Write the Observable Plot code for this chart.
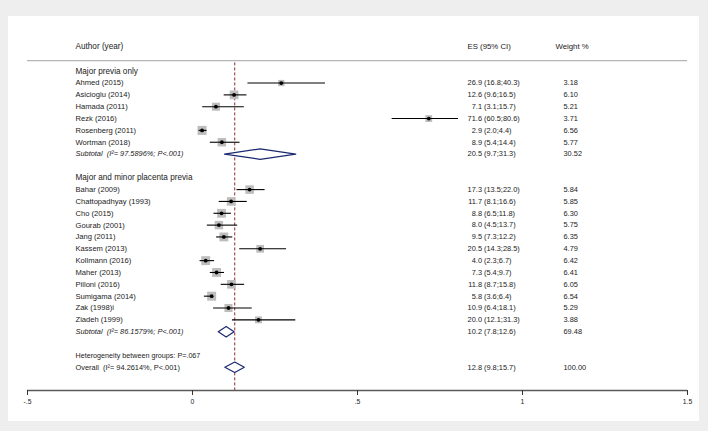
<!DOCTYPE html>
<html>
<head>
<meta charset="utf-8">
<script src="https://cdn.jsdelivr.net/npm/d3@7"></script>
<script src="https://cdn.jsdelivr.net/npm/@observablehq/plot@0.6"></script>
<style>
  html, body { margin: 0; padding: 0; background: #eeeeee; }
  #wrap { position: relative; width: 708px; height: 431px; }
  #panel { position: absolute; left: 8px; top: 16px; width: 691px; height: 405px; background: #ffffff; }
  #chart { position: absolute; left: 0; top: 0; }
</style>
</head>
<body>
<div id="wrap"><div id="panel"></div><div id="chart"></div></div>
<script>
// ---- data ----
const group1Name = "Major previa only";
const group1Authors = ["Ahmed (2015)", "Asicioglu (2014)", "Hamada (2011)", "Rezk (2016)", "Rosenberg (2011)", "Wortman (2018)"];
const group1ES = [26.9, 12.6, 7.1, 71.6, 2.9, 8.9];
const group1Lo = [16.8, 9.6, 3.1, 60.5, 2.0, 5.4];
const group1Hi = [40.3, 16.5, 15.7, 80.6, 4.4, 14.4];
const group1W  = ["3.18", "6.10", "5.21", "3.71", "6.56", "5.77"];

const group2Name = "Major and minor placenta previa";
const group2Authors = ["Bahar (2009)", "Chattopadhyay (1993)", "Cho (2015)", "Gourab (2001)", "Jang (2011)", "Kassem (2013)", "Kollmann (2016)", "Maher (2013)", "Pilloni (2016)", "Sumigama (2014)", "Zak (1998)i", "Ziadeh (1999)"];
const group2ES = [17.3, 11.7, 8.8, 8.0, 9.5, 20.5, 4.0, 7.3, 11.8, 5.8, 10.9, 20.0];
const group2Lo = [13.5, 8.1, 6.5, 4.5, 7.3, 14.3, 2.3, 5.4, 8.7, 3.6, 6.4, 12.1];
const group2Hi = [22.0, 16.6, 11.8, 13.7, 12.2, 28.5, 6.7, 9.7, 15.8, 6.4, 18.1, 31.3];
const group2W  = ["5.84", "5.85", "6.30", "5.75", "6.35", "4.79", "6.42", "6.41", "6.05", "6.54", "5.29", "3.88"];

const pooledLabels = ["Subtotal  (I\u00B2= 97.5896%; P<.001)", "Subtotal  (I\u00B2= 86.1579%; P<.001)", "Overall  (I\u00B2= 94.2614%, P<.001)"];
const pooledES = [20.5, 10.2, 12.8];
const pooledLo = [9.7, 7.8, 9.8];
const pooledHi = [31.3, 12.6, 15.7];
const pooledW  = ["30.52", "69.48", "100.00"];
const heterogeneityText = "Heterogeneity between groups: P=.067";

const headerAuthor = "Author (year)";
const headerES = "ES (95% CI)";
const headerWeight = "Weight %";

const tickValues = [-0.5, 0, 0.5, 1, 1.5];
const tickLabels = ["-.5", "0", ".5", "1", "1.5"];

// ---- build rows ----
const studies = [];
group1Authors.forEach((a, i) => studies.push({label: a, es: group1ES[i], lo: group1Lo[i], hi: group1Hi[i], w: group1W[i], row: 1 + i}));
group2Authors.forEach((a, i) => studies.push({label: a, es: group2ES[i], lo: group2Lo[i], hi: group2Hi[i], w: group2W[i], row: 10 + i}));
const pooledRows = [7, 22, 25];
const pooled = pooledLabels.map((l, i) => ({label: l, es: pooledES[i], lo: pooledLo[i], hi: pooledHi[i], w: pooledW[i], row: pooledRows[i], italic: i < 2}));
const groupHeads = [{label: group1Name, row: 0}, {label: group2Name, row: 9}];

const fmt = v => v.toFixed(1);
const H = 0.44; // diamond half height in rows
const diamondPts = [];
pooled.forEach((p, i) => {
  diamondPts.push({id: i, x: p.lo / 100, y: p.row});
  diamondPts.push({id: i, x: p.es / 100, y: p.row - H});
  diamondPts.push({id: i, x: p.hi / 100, y: p.row});
  diamondPts.push({id: i, x: p.es / 100, y: p.row + H});
  diamondPts.push({id: i, x: p.lo / 100, y: p.row});
});

const axisRow = 26.97, headerRow = -2.1, headerLineRow = -0.9, refTopRow = -0.7;
const overallES = pooledES[2] / 100;
const txt = "#222";
const navy = "#1b2870";

const chart = Plot.plot({
  width: 708, height: 431,
  marginLeft: 27, marginRight: 21, marginTop: 20, marginBottom: 41,
  style: {fontFamily: "'Liberation Sans', Arial, sans-serif", background: "transparent", color: txt},
  x: {domain: [-0.5, 1.5], range: [27, 687]},
  y: {domain: [0, 25], range: [70.7, 366.7], axis: null},
  r: {type: "sqrt", domain: [0, 7], range: [0, 5.25]},
  marks: [
    // header
    Plot.text([headerAuthor], {frameAnchor: "left", dx: 48, y: () => headerRow, text: d => d, textAnchor: "start", fontSize: 8.2, fill: txt}),
    Plot.text([headerES], {frameAnchor: "left", dx: 440, y: () => headerRow, text: d => d, textAnchor: "start", fontSize: 7.8, fill: txt}),
    Plot.text([headerWeight], {frameAnchor: "left", dx: 528, y: () => headerRow, text: d => d, textAnchor: "start", fontSize: 7.8, fill: txt}),
    Plot.ruleY([headerLineRow], {x1: -0.5, x2: 1.5, stroke: "#b5b5b5", strokeWidth: 1.2}),
    // reference line at overall
    Plot.ruleX([overallES], {y1: refTopRow, y2: axisRow, stroke: "#8c2a2a", strokeDasharray: "3,2", strokeWidth: 1}),
    // group headers
    Plot.text(groupHeads, {frameAnchor: "left", dx: 48, y: "row", text: "label", textAnchor: "start", fontSize: 8.2, fill: txt}),
    // study labels
    Plot.text(studies, {frameAnchor: "left", dx: 48, y: "row", text: "label", textAnchor: "start", fontSize: 7.6, fill: txt}),
    Plot.text(studies, {frameAnchor: "left", dx: 454.5, y: "row", text: d => fmt(d.es), textAnchor: "end", fontSize: 7.4, fill: txt}),
    Plot.text(studies, {frameAnchor: "left", dx: 456.5, y: "row", text: d => `(${fmt(d.lo)};${fmt(d.hi)})`, textAnchor: "start", fontSize: 7.4, fill: txt}),
    Plot.text(studies, {frameAnchor: "left", dx: 536, y: "row", text: "w", textAnchor: "start", fontSize: 7.4, fill: txt}),
    // pooled labels
    Plot.text(pooled.filter(p => p.italic), {frameAnchor: "left", dx: 48, y: "row", text: "label", textAnchor: "start", fontSize: 7.4, fontStyle: "italic", fill: txt}),
    Plot.text(pooled.filter(p => !p.italic), {frameAnchor: "left", dx: 48, y: "row", text: "label", textAnchor: "start", fontSize: 7.4, fill: txt}),
    Plot.text([heterogeneityText], {frameAnchor: "left", dx: 48, y: () => pooledRows[2] - 1, text: d => d, textAnchor: "start", fontSize: 7.2, fill: txt}),
    Plot.text(pooled, {frameAnchor: "left", dx: 454.5, y: "row", text: d => fmt(d.es), textAnchor: "end", fontSize: 7.4, fill: txt}),
    Plot.text(pooled, {frameAnchor: "left", dx: 456.5, y: "row", text: d => `(${fmt(d.lo)};${fmt(d.hi)})`, textAnchor: "start", fontSize: 7.4, fill: txt}),
    Plot.text(pooled, {frameAnchor: "left", dx: 536, y: "row", text: "w", textAnchor: "start", fontSize: 7.4, fill: txt}),
    // weight squares
    Plot.dot(studies, {x: d => d.es / 100, y: "row", r: d => +d.w, symbol: "square", fill: "#bdbdbd", stroke: "none"}),
    // CIs
    Plot.ruleY(studies, {y: "row", x1: d => d.lo / 100, x2: d => d.hi / 100, stroke: "#000", strokeWidth: 1.1}),
    // point estimates
    Plot.dot(studies, {x: d => d.es / 100, y: "row", r: 1.9, fill: "#000", stroke: "none"}),
    // diamonds
    Plot.line(diamondPts, {x: "x", y: "y", z: "id", fill: "white", stroke: navy, strokeWidth: 1.2, curve: "linear"}),
    // axis
    Plot.ruleY([axisRow], {x1: -0.5, x2: 1.5, stroke: "#5a5a5a", strokeWidth: 1.4}),
    Plot.axisX({ticks: tickValues, tickFormat: (d) => tickLabels[tickValues.indexOf(d)], tickSize: 5, tickPadding: 4, fontSize: 6.8, stroke: "#333", fill: txt, label: null})
  ]
});
document.getElementById("chart").appendChild(chart);
</script>
</body>
</html>
